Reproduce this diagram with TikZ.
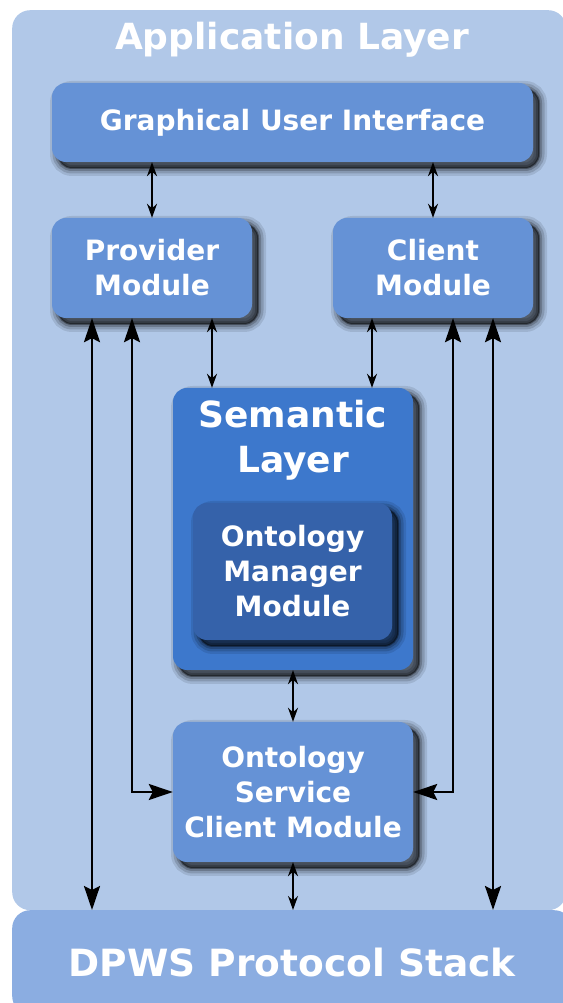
\documentclass[tikz,border=0pt]{standalone}
\usepackage{fontspec}
\setmainfont{DejaVu Sans}
\usetikzlibrary{calc,positioning,shadows,arrows.meta}
\definecolor{appbg}{HTML}{B1C8E8}
\definecolor{modblue}{HTML}{6592D6}
\definecolor{semblue}{HTML}{3D78CC}
\definecolor{ontblue}{HTML}{3562AA}
\definecolor{dpwsblue}{HTML}{8BADE1}

\tikzset{
    softshadow/.style={
        general shadow={draw=black, line width=16pt, opacity=0.1, shadow xshift=6pt, shadow yshift=-6pt},
        general shadow={draw=black, line width=11pt, opacity=0.15, shadow xshift=6pt, shadow yshift=-6pt},
        general shadow={fill=black, draw=black, line width=6pt, opacity=0.2, shadow xshift=6pt, shadow yshift=-6pt},
        general shadow={fill=black, draw=black, line width=2pt, opacity=0.35, shadow xshift=6pt, shadow yshift=-6pt}},
    modbox/.style={fill=modblue, rounded corners=14pt, text=white, align=center, inner sep=0pt,
        font=\fontsize{28pt}{35pt}\selectfont\bfseries, softshadow},
    layerbox/.style={rounded corners=18pt, inner sep=0pt, anchor=north west},
    smallarr/.style={{Stealth[length=14pt,width=10pt]}-{Stealth[length=14pt,width=10pt]}, line width=1.5pt},
    bigarr/.style={{Stealth[length=24pt,width=16pt,inset=4pt]}-{Stealth[length=24pt,width=16pt,inset=4pt]}, line width=2.4pt},
}

\begin{document}
\begin{tikzpicture}[x=1pt, y=1pt]
        \useasboundingbox (0,0) rectangle (562,1003);

        % ----------------------------------------------------
        % LAYERS
        % ----------------------------------------------------
        \node (app) [layerbox, fill=appbg, minimum width=554pt, minimum height=900pt] at (12,993) {};
        \node (apptitle) [text=white, font=\fontsize{36pt}{40pt}\selectfont\bfseries] at (292,963) {Application Layer};
        \node (dpws) [layerbox, fill=dpwsblue, minimum width=560pt, minimum height=104pt,
            text=white, font=\fontsize{37.5pt}{40pt}\selectfont\bfseries] at (12,93) {DPWS Protocol Stack};

        % ----------------------------------------------------
        % MODULES
        % ----------------------------------------------------
        \node (gui) [modbox, minimum width=481pt, minimum height=79pt] at (292.5,880.5) {Graphical User Interface};
        \node (prov) [modbox, minimum width=200pt, minimum height=100pt] at (152,735) {Provider\\Module};
        \node (client) [modbox, minimum width=200pt, minimum height=100pt] at (433,735) {Client\\Module};

        % Semantic layer with the ontology manager inside
        \node (sem) [modbox, fill=semblue, minimum width=240pt, minimum height=282pt] at (293,474) {};
        \node (semtitle) [text=white, align=center, font=\fontsize{36pt}{45pt}\selectfont\bfseries] at (293,563) {Semantic\\Layer};
        \node (ont) [modbox, fill=ontblue, minimum width=199pt, minimum height=137pt] at (292.5,431.5) {Ontology\\Manager\\Module};

        \node (oscm) [modbox, minimum width=240pt, minimum height=140pt] at (293,211) {Ontology\\Service\\Client Module};

        % ----------------------------------------------------
        % CONNECTORS
        % ----------------------------------------------------
        \draw[smallarr] (gui.south -| prov.north) -- (prov.north);
        \draw[smallarr] (gui.south -| client.north) -- (client.north);
        \draw[smallarr] ([xshift=60pt]prov.south) -- ([xshift=60pt]prov.south |- sem.north);
        \draw[smallarr] ([xshift=-61pt]client.south) -- ([xshift=-61pt]client.south |- sem.north);
        \draw[smallarr] (sem.south) -- (oscm.north);
        \draw[smallarr] (oscm.south) -- (oscm.south |- dpws.north);

        \draw[bigarr] ([xshift=-60pt]prov.south) -- ([xshift=-60pt]prov.south |- dpws.north);
        \draw[bigarr] ([xshift=-20pt]prov.south) |- (oscm.west);
        \draw[bigarr] ([xshift=20pt]client.south) |- (oscm.east);
        \draw[bigarr] ([xshift=60pt]client.south) -- ([xshift=60pt]client.south |- dpws.north);
\end{tikzpicture}
\end{document}
